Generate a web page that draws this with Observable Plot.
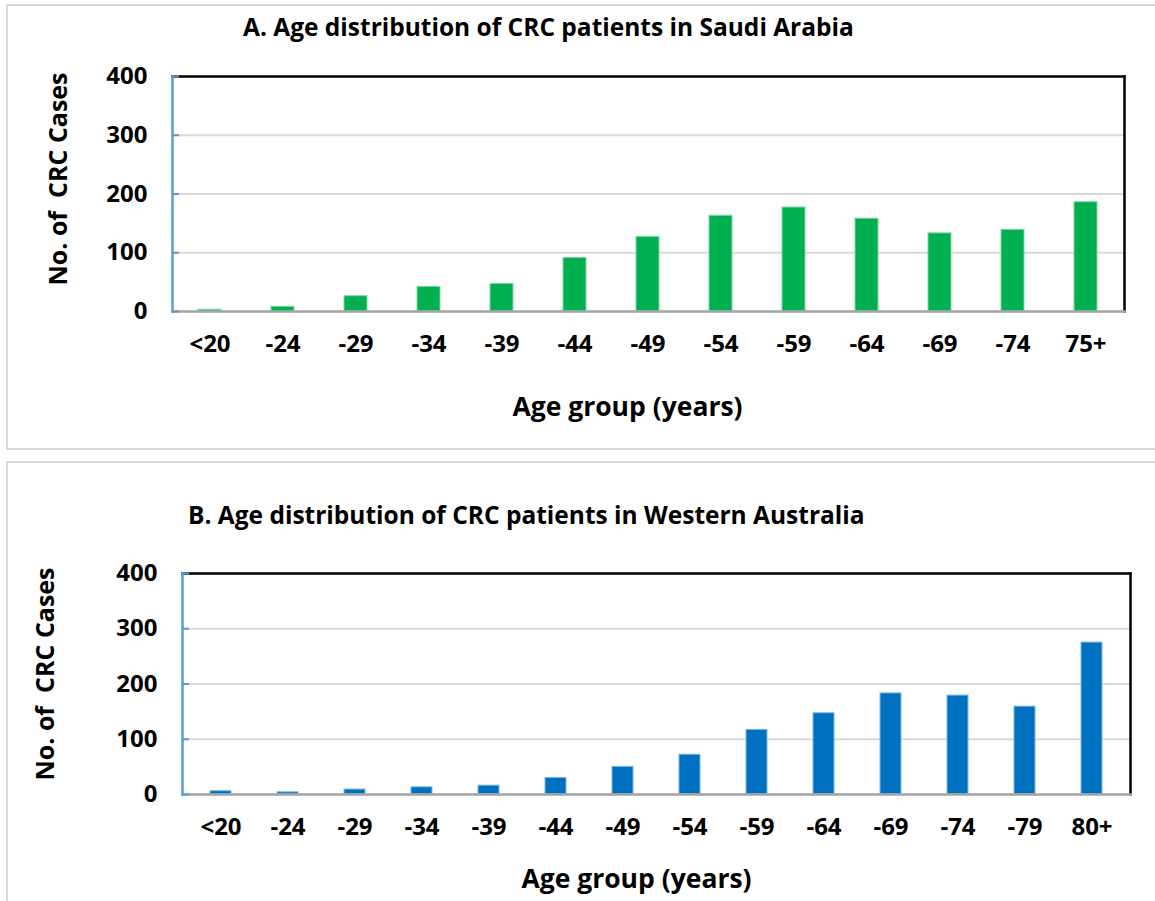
<!DOCTYPE html>
<html><head><meta charset="utf-8">
<script src="https://cdn.jsdelivr.net/npm/d3@7"></script>
<script src="https://cdn.jsdelivr.net/npm/@observablehq/plot@0.6"></script>
<style>
html,body{margin:0;padding:0;background:#fff;overflow:hidden;width:1155px;height:901px;}
#root{position:relative;width:1155px;height:901px;font-family:"Open Sans",sans-serif;overflow:hidden;}
.box{position:absolute;border:2px solid #d9d9d9;box-sizing:border-box;}
.title{position:absolute;font-family:"Open Sans",sans-serif;font-weight:700;font-size:24.5px;line-height:1;white-space:nowrap;color:#000;}
.chart{position:absolute;left:0;}
</style></head><body><div id="root">
<div class="box" style="left:6px;top:4px;width:1170px;height:446px"></div>
<div class="box" style="left:6px;top:461px;width:1170px;height:460px"></div>
<div class="title" style="left:243px;top:15px">A. Age distribution of CRC patients in Saudi Arabia</div>
<div class="title" style="left:188px;top:503px">B. Age distribution of CRC patients in Western Australia</div>
<div class="chart" id="chartA" style="top:0px"></div>
<div class="chart" id="chartB" style="top:455px"></div>
</div>
<script>
const saudiGroups = ["<20","-24","-29","-34","-39","-44","-49","-54","-59","-64","-69","-74","75+"];
const saudiCases = [3, 8, 26, 42, 47, 91, 127, 163, 177, 158, 133, 139, 186];
const waGroups = ["<20","-24","-29","-34","-39","-44","-49","-54","-59","-64","-69","-74","-79","80+"];
const waCases = [6, 4, 9, 13, 16, 30, 50, 72, 117, 147, 183, 179, 159, 275];
const yTicks = [0, 100, 200, 300, 400];
const yTitle = "No. of\u00a0 CRC Cases";
const xTitle = "Age group (years)";

function panel(o) {
  const data = o.groups.map((g, i) => ({group: g, cases: o.values[i]}));
  return Plot.plot({
    width: 1155, height: o.height,
    marginLeft: o.ml, marginRight: o.mr, marginTop: o.mt, marginBottom: o.mb,
    style: {fontFamily: "'Open Sans', sans-serif", fontWeight: "bold", color: "#000", background: "transparent", overflow: "visible"},
    x: {domain: o.groups, paddingInner: 0.68, paddingOuter: 0.34, axis: null, label: null},
    y: {domain: [0, 400], axis: null, label: null},
    marks: [
      Plot.gridY(yTicks, {stroke: "#d9d9d9", strokeOpacity: 1, strokeWidth: 2}),
      Plot.barY(data, {x: "group", y: "cases", fill: o.color, stroke: o.edge, strokeWidth: 1}),
      Plot.frame({anchor: "top", stroke: "#000", strokeWidth: 2.5}),
      Plot.frame({anchor: "right", stroke: "#000", strokeWidth: 2.5}),
      Plot.frame({anchor: "bottom", stroke: "#a6a6a6", strokeWidth: 2.5}),
      Plot.frame({anchor: "left", stroke: "#5b9bd5", strokeWidth: 2.5}),
      Plot.axisY(yTicks, {tickSize: -7, tickFormat: () => "", stroke: "#5b9bd5", strokeWidth: 2, label: null}),
      Plot.axisY(yTicks, {tickSize: 0, tickPadding: 25, fontSize: 24, fontWeight: "bold", label: null}),
      Plot.axisX({tickSize: 0, tickPadding: 23, fontSize: 24, fontWeight: "bold", label: null}),
      Plot.text([yTitle], {frameAnchor: "left", textAnchor: "middle", rotate: -90, dx: o.ytdx, dy: o.ytdy, fontSize: 25, fontWeight: "bold"}),
      Plot.text([xTitle], {frameAnchor: "bottom", textAnchor: "middle", dx: o.xtdx, dy: o.xtdy, fontSize: 26.5, fontWeight: "bold"})
    ]
  });
}

document.getElementById("chartA").append(panel({
  groups: saudiGroups, values: saudiCases, color: "#00b050", edge: "#7fd8a6",
  height: 448, ml: 172, mr: 31, mt: 76, mb: 137,
  ytdx: -114, ytdy: -15, xtdx: -21, xtdy: 104
}));
document.getElementById("chartB").append(panel({
  groups: waGroups, values: waCases, color: "#0070c0", edge: "#7fb7e0",
  height: 446, ml: 182, mr: 25, mt: 118, mb: 107,
  ytdx: -137, ytdy: -10, xtdx: -20, xtdy: 93
}));
</script>
</body></html>
